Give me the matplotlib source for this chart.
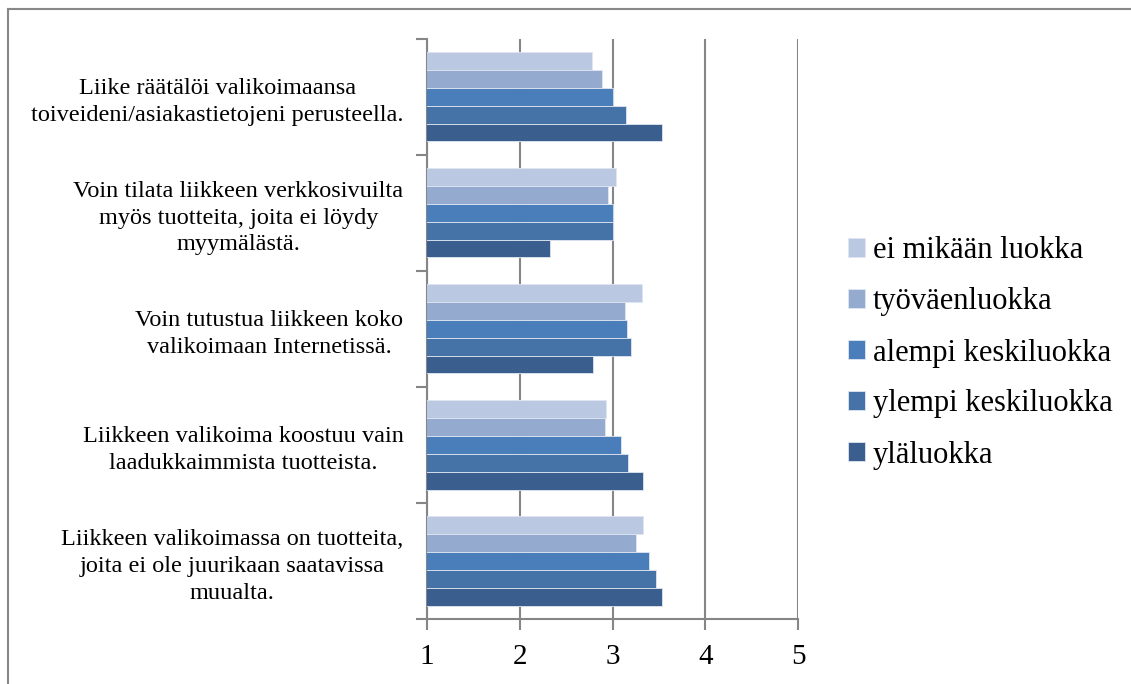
import matplotlib

matplotlib.use("Agg")

import matplotlib.pyplot as plt
import numpy as np
from matplotlib.lines import Line2D


CATEGORIES = [
    "Liike räätälöi valikoimaansa\ntoiveideni/asiakastietojeni perusteella.",
    "Voin tilata liikkeen verkkosivuilta\nmyös tuotteita, joita ei löydy\nmyymälästä.",
    "Voin tutustua liikkeen koko\nvalikoimaan Internetissä.",
    "Liikkeen valikoima koostuu vain\nlaadukkaimmista tuotteista.",
    "Liikkeen valikoimassa on tuotteita,\njoita ei ole juurikaan saatavissa\nmuualta.",
]
SERIES_NAMES = [
    "ei mikään luokka",
    "työväenluokka",
    "alempi keskiluokka",
    "ylempi keskiluokka",
    "yläluokka",
]
EI_MIKAAN = [2.78, 3.04, 3.32, 2.93, 3.33]
TYOVAEN = [2.89, 2.95, 3.13, 2.92, 3.25]
ALEMPI_KESKI = [3.00, 3.00, 3.15, 3.09, 3.39]
YLEMPI_KESKI = [3.14, 3.00, 3.20, 3.17, 3.47]
YLA = [3.53, 2.33, 2.79, 3.33, 3.53]
X_TICKS = [1, 2, 3, 4, 5]

COLORS = ["#bbc8e1", "#94aacf", "#4a7ebb", "#4572a7", "#3a5f8e"]
GRID = "#868686"
SERIF = ["Liberation Serif", "DejaVu Serif"]

W, H = 1131, 684
fig = plt.figure(figsize=(W / 100, H / 100), dpi=100)
fig.patch.set_facecolor("white")

# plot area in pixel terms
left, right, top, bottom = 427, 798.3, 38.7, 619
ax = fig.add_axes([left / W, 1 - bottom / H, (right - left) / W, (bottom - top) / H])

series = [EI_MIKAAN, TYOVAEN, ALEMPI_KESKI, YLEMPI_KESKI, YLA]
y = np.arange(len(CATEGORIES))
group = 1 / 1.3
bar_h = group / len(series)
for i, (name, values, color) in enumerate(zip(SERIES_NAMES, series, COLORS)):
    ax.barh(
        y + (i - 2) * bar_h,
        values,
        height=bar_h,
        color=color,
        edgecolor="#dfe6f2",
        linewidth=0.6,
        label=name,
        zorder=3,
    )

ax.set_xlim(1, 5)
ax.set_ylim(len(CATEGORIES) - 0.5, -0.5)
ax.set_xticks(X_TICKS)
ax.set_xticklabels([str(t) for t in X_TICKS], fontsize=21, family=SERIF)
ax.tick_params(axis="x", length=8, width=1.5, color=GRID, pad=10)
ax.grid(axis="x", color=GRID, linewidth=1.5, zorder=1)

# category boundaries carry the tick marks, labels sit at the centres
ax.set_yticks(np.arange(len(CATEGORIES) + 1) - 0.5)
ax.set_yticklabels([])
ax.tick_params(axis="y", which="major", length=8, width=1.5, color=GRID)
ax.set_yticks(y, minor=True)
ax.set_yticklabels(CATEGORIES, minor=True, fontsize=17.5, family=SERIF,
                   multialignment="center", linespacing=1.36)
ax.tick_params(axis="y", which="minor", length=0, pad=17)

for side in ("top", "right"):
    ax.spines[side].set_visible(False)
for side in ("left", "bottom"):
    ax.spines[side].set_color(GRID)
    ax.spines[side].set_linewidth(1.5)

ax.legend(
    loc="center left",
    bbox_to_anchor=(836 / W, 1 - 353 / H),
    bbox_transform=fig.transFigure,
    frameon=False,
    prop={"family": SERIF, "size": 22},
    handlelength=0.55,
    handleheight=0.55,
    handletextpad=0.25,
    labelspacing=0.72,
    borderaxespad=0,
)

# outer chart frame
fig.add_artist(Line2D([8 / W, 8 / W], [0, 1 - 9 / H], color="#888888", linewidth=1.5))
fig.add_artist(Line2D([8 / W, 1130 / W], [1 - 9 / H, 1 - 9 / H], color="#888888", linewidth=1.5))

fig.savefig("out.png", dpi=100, facecolor="white")
